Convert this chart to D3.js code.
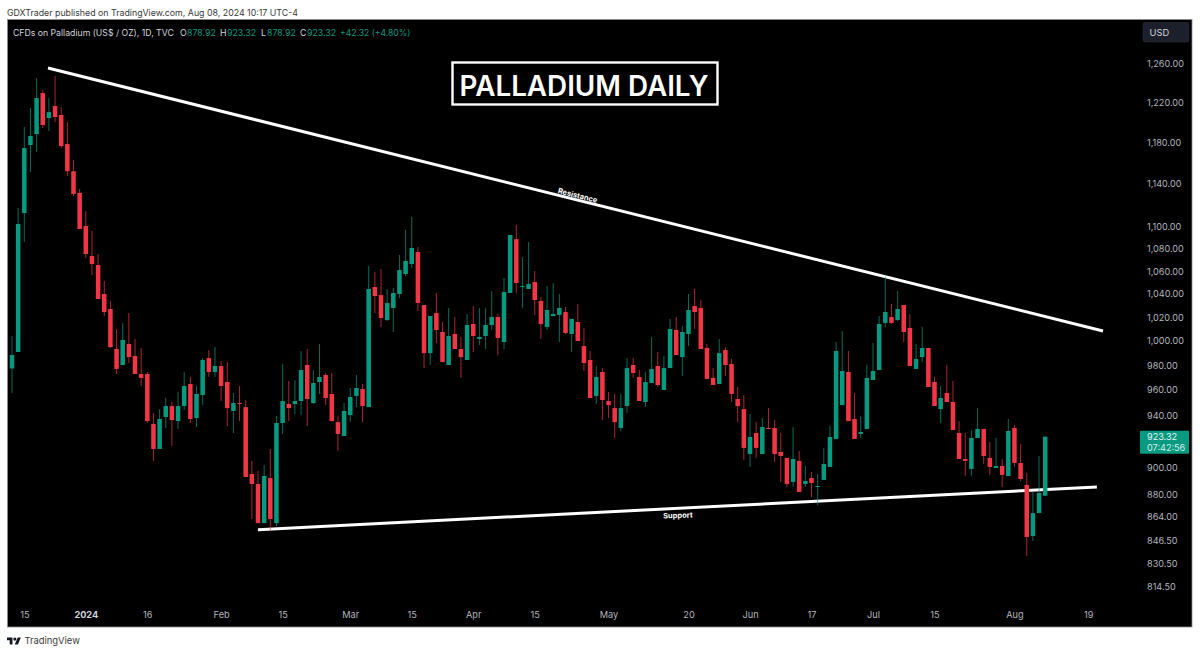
<!DOCTYPE html>
<html>
<head>
<meta charset="utf-8">
<style>
  html, body { margin: 0; background: #fff; }
  svg { display: block; font-family: Inter, "Noto Sans", sans-serif; }
  .domain { display: none; }
</style>
</head>
<body>
<div id="chart"></div>
<script src="https://cdn.jsdelivr.net/npm/d3@7"></script>
<script>
// daily candles, one entry per session (13 Dec 2023 - 8 Aug 2024)
const opens = [
  977.4, 990.9, 1112.7, 1177.6, 1188.5, 1229.8, 1204.5, 1216.6, 1207.5, 1178.6,
  1152.2, 1131.5, 1100.8, 1073.5, 1065.5, 1040, 1027.1, 993.4, 980.2, 997.5,
  987.6, 972.9, 972.9, 933.1, 913.9, 938.6, 947.2, 935.4, 947.2, 964.8,
  937.8, 956, 985.9, 974.5, 979.4, 966.4, 943.3, 949.6, 946.4, 895,
  887.6, 859.1, 892, 859.1, 933.9, 948.8, 948.8, 951.2, 980.2, 949.6,
  966.4, 972.1, 956.8, 934.6, 923.9, 940.1, 955.2, 960.8, 946.4, 1046.1,
  1039.1, 1017.7, 1028, 1040, 1057.5, 1066.4, 1077.1, 1030.5, 990, 1023.7,
  1007.6, 980.2, 1005.9, 993.4, 984.3, 1014.3, 1001.7, 1004.2, 1013.5, 1020.3,
  999.2, 1040.9, 1088.8, 1046.1, 1044.4, 1050.5, 1034, 1011.8, 1021.1, 1022,
  1024.5, 1005.9, 1016, 995.8, 984.3, 955.2, 974.5, 951.2, 945.6, 930,
  947.2, 980.2, 970.5, 950.4, 965.6, 979.4, 960, 977.7, 1009.3, 986.7,
  1005.9, 1029.7, 1028, 994.2, 969.7, 964.8, 992.5, 981, 952.8, 944.8,
  910.1, 926.2, 910.1, 930, 930, 911.6, 907.1, 889.1, 904.8, 887.6,
  892, 885.4, 890.6, 900.3, 921.6, 948, 974.5, 937, 925.4, 929.3,
  968, 976.1, 1015.2, 1020.3, 1017.7, 1030.5, 1011, 977, 986.7, 994.2,
  966.4, 944.8, 957.6, 950.4, 926.2, 906.3, 898.8, 922.3, 929.3, 907.1,
  899.5, 901, 893.5, 930, 903.3, 886.9, 849.9, 866.3, 878.92
];
const highs = [
  1004.2, 1117.4, 1195.5, 1214.6, 1245.3, 1232.9, 1224.7, 1247.4, 1215.6, 1200.5,
  1163, 1135.3, 1114.6, 1096.2, 1075.3, 1051.3, 1034, 1010.1, 1015.2, 1023.7,
  1001.7, 994.2, 974.5, 941.7, 944.8, 953.6, 950.4, 958.4, 974.5, 970.5,
  963.2, 985.9, 992.5, 995, 983.5, 982.6, 957.6, 963.2, 952, 904.8,
  897.3, 901.8, 913.9, 939.3, 981, 967.2, 968, 991.7, 993.4, 976.1,
  997.5, 973.7, 973.7, 939.3, 949.6, 961.6, 972.1, 964.8, 1064.6, 1059.3,
  1061.9, 1044.4, 1045.2, 1074.4, 1097.1, 1109, 1081.6, 1030.5, 1021.1, 1040.9,
  1016, 1028, 1020.3, 1003.4, 1022.8, 1029.7, 1028, 1028, 1042.6, 1022.8,
  1054, 1092.5, 1101.7, 1072.6, 1086.1, 1060.2, 1037.4, 1046.9, 1049.6, 1040,
  1028.8, 1018.6, 1031.4, 1010.9, 991.7, 979.4, 977.7, 958.4, 956.8, 956.8,
  985.9, 985.9, 976.1, 974.5, 1003.4, 990.9, 987.6, 1018.6, 1020.3, 1012.6,
  1040, 1044.4, 1034.8, 997.5, 977.7, 1001.7, 995, 985.1, 962.4, 956,
  940.9, 934.6, 937.8, 945.6, 936.2, 926.2, 907.1, 930.8, 912.4, 901,
  896.5, 895, 914.7, 931.6, 999.2, 1008.4, 991.7, 957.6, 939.3, 980.2,
  998.4, 1021.1, 1054.9, 1031.4, 1042.6, 1030.5, 1022.8, 997.5, 1011.8, 994.2,
  970.5, 963.2, 980.2, 967.2, 935.4, 926.2, 928.5, 945.6, 929.3, 919.2,
  922.3, 906.3, 937, 932.3, 917.7, 895.8, 881.7, 908.6, 923.32
];
const lows = [
  957.6, 990.9, 1086.1, 1151.4, 1170.8, 1194.5, 1191.5, 1200.5, 1174.7, 1147.6,
  1128.6, 1098, 1071.7, 1056.6, 1035.7, 1021.1, 994.2, 972.9, 980.2, 981.8,
  972.9, 963.2, 933.9, 904.8, 913.9, 930, 916.2, 929.3, 944.1, 933.9,
  930.8, 948, 970.5, 970.5, 951.2, 931.6, 926.2, 935.4, 892.8, 862,
  859.1, 859.1, 854.1, 857, 925.4, 935.4, 940.9, 940.1, 931.6, 948.8,
  956.8, 948, 935.4, 912.4, 923.9, 934.6, 946.4, 934.6, 946.4, 1023.7,
  1011.8, 1016.9, 1007.6, 1036.6, 1055.7, 1062.8, 1025.4, 977.7, 980.2, 998.4,
  982.6, 980.2, 993.4, 969.7, 984.3, 990.9, 996.7, 993.4, 1009.3, 988.4,
  993.4, 1040.9, 1040.9, 1028, 1044.4, 1022, 1001.7, 1009.3, 1021.1, 999.2,
  1005.9, 990.9, 1000, 975.3, 953.6, 948.8, 936.2, 937.8, 922.3, 927.7,
  941.7, 969.7, 951.2, 946.4, 965.6, 962.4, 960, 977.7, 988.4, 971.3,
  995.8, 1010.1, 993.4, 968.9, 964, 964.8, 971.3, 950.4, 934.6, 905.5,
  900.3, 907.1, 910.1, 929.3, 904, 889.1, 885.4, 885.4, 881.7, 885.4,
  878, 872.2, 890.6, 900.3, 921.6, 948, 935.4, 921.6, 922.3, 929.3,
  968, 976.1, 1011.8, 1014.3, 1016.9, 999.2, 979.4, 977, 982.6, 962.4,
  947.2, 933.9, 950.4, 928.5, 906.3, 893.5, 893.5, 922.3, 902.5, 894.3,
  899.5, 885.4, 893.5, 900.3, 889.8, 835.8, 846.3, 866.3, 878.92
];
const closes = [
  988.4, 1102.6, 1174.7, 1186.5, 1224.7, 1197.5, 1210.5, 1205.5, 1176.6, 1152.2,
  1130.5, 1098, 1075.3, 1066.4, 1035.7, 1024.5, 995, 977, 1000.9, 986.7,
  972.9, 969.7, 935.4, 913.9, 937, 947.2, 936.2, 947.2, 963.2, 937,
  956.8, 984.3, 974.5, 979.4, 963.2, 945.6, 949.6, 948.8, 892.8, 887.6,
  859.1, 893.5, 862, 933.9, 951.2, 945.6, 951.2, 976.1, 952.8, 965.6,
  970.5, 953.6, 935.4, 925.4, 943.3, 954.4, 961.6, 947.2, 1044.4, 1038.3,
  1019.4, 1032.3, 1040.9, 1061, 1069.1, 1080.7, 1032.3, 990, 1021.1, 1009.3,
  982.6, 1004.2, 993.4, 986.7, 1013.5, 1004.2, 1003.4, 1013.5, 1020.3, 1002.5,
  1041.7, 1092.5, 1049.6, 1046.9, 1048.7, 1034.8, 1014.3, 1026.2, 1022.8, 1028,
  1006.7, 1018.6, 1000, 981.8, 953.6, 970.5, 952, 948, 934.6, 945.6,
  977.7, 973.7, 951.2, 966.4, 976.9, 964, 977.7, 1010.1, 988.4, 1007.6,
  1026.2, 1024.5, 993.4, 968.9, 964, 990, 980.2, 956.8, 947.2, 914.7,
  923.1, 914.7, 930.8, 929.3, 910.1, 908.6, 887.6, 906.3, 881.7, 889.8,
  888.3, 886.1, 902.5, 923.1, 991.7, 975.3, 935.4, 921.6, 926.9, 969.7,
  975.3, 1014.3, 1024.5, 1015.2, 1027.1, 1007.6, 979.4, 985.1, 994.2, 962.4,
  947.2, 953.6, 950.4, 928.5, 906.3, 904.8, 922.3, 929.3, 908.6, 900.3,
  901, 894.3, 927.7, 903.3, 891.3, 849.2, 866.3, 880.9, 923.32
];

const priceTicks = [1260, 1220, 1180, 1140, 1100, 1080, 1060, 1040, 1020, 1000, 980, 960, 940, 900, 880, 864, 846.5, 830.5, 814.5];
const dateLabels = ["15", "2024", "16", "Feb", "15", "Mar", "15", "Apr", "15", "May", "20", "Jun", "17", "Jul", "15", "Aug", "19"];
const dateIndex = [2, 12, 22, 34, 44, 55, 65, 75, 85, 97, 110, 120, 130, 140, 150, 163, 175];

// trend lines: [session index, price]
const resistance = [[5.85, 1255.8], [177.4, 1008.4]];
const support = [[40, 854.4], [176.4, 885.4]];

const lastPrice = 923.32;
const UP = "#089981", DOWN = "#f23645";
const W = 1200, H = 653;

const x = d3.scaleLinear().domain([0, 175]).range([12, 1088.25]);
const y = d3.scaleLog().domain([814.5, 1260]).range([587, 64]);

const svg = d3.select("#chart").append("svg").attr("width", W).attr("height", H);

svg.append("text").attr("x", 7).attr("y", 16).attr("font-size", 8.8).attr("fill", "#3a3a3a")
  .text("GDXTrader published on TradingView.com, Aug 08, 2024 10:17 UTC-4");

svg.append("rect").attr("x", 7.5).attr("y", 19.5).attr("width", 1184.5).attr("height", 607.5)
  .attr("fill", "#000").attr("stroke", "#8a8a8a").attr("stroke-width", 0.8);

// legend row
const legend = [
  ["CFDs on Palladium (US$ / OZ), 1D, TVC", 13, "#d1d4dc", 8.7],
  ["O", 180, "#d1d4dc", 8.8], ["878.92", 187, UP, 8.8],
  ["H", 220, "#d1d4dc", 8.8], ["923.32", 227, UP, 8.8],
  ["L", 261, "#d1d4dc", 8.8], ["878.92", 267, UP, 8.8],
  ["C", 300, "#d1d4dc", 8.8], ["923.32", 307, UP, 8.8],
  ["+42.32 (+4.80%)", 340, UP, 8.6]
];
svg.append("g").selectAll("text").data(legend).join("text")
  .attr("x", d => d[1]).attr("y", 36).attr("font-size", d => d[3]).attr("fill", d => d[2]).text(d => d[0]);

svg.append("rect").attr("x", 1143).attr("y", 22.5).attr("width", 46).attr("height", 19.5).attr("rx", 2)
  .attr("fill", "#1b202c").attr("stroke", "#2a2e39").attr("stroke-width", 0.6);
svg.append("text").attr("x", 1149.5).attr("y", 35.5).attr("font-size", 9.3).attr("fill", "#d1d4dc").text("USD");

// title box
svg.append("rect").attr("x", 452.5).attr("y", 62.5).attr("width", 265).attr("height", 42)
  .attr("fill", "none").attr("stroke", "#fff").attr("stroke-width", 2.4);
svg.append("text").attr("x", 584).attr("y", 96).attr("text-anchor", "middle")
  .attr("font-size", 27.8).attr("font-weight", 600).attr("fill", "#fff").text("PALLADIUM DAILY");

// trend lines sit under the candles
const trend = d3.line().x(d => x(d[0])).y(d => y(d[1]));
svg.selectAll("path.trend").data([resistance, support]).join("path")
  .attr("class", "trend").attr("d", trend).attr("fill", "none").attr("stroke", "#fff").attr("stroke-width", 3);

svg.append("text").attr("transform", "translate(577,198) rotate(14)").attr("text-anchor", "middle")
  .attr("font-size", 7.5).attr("font-weight", 700).attr("fill", "#fff").text("Resistance");
svg.append("text").attr("transform", "translate(678,518) rotate(-2)").attr("text-anchor", "middle")
  .attr("font-size", 7.5).attr("font-weight", 700).attr("fill", "#fff").text("Support");

// candles
const candle = svg.append("g").selectAll("g").data(opens).join("g");
const colour = (o, i) => closes[i] >= o ? UP : DOWN;
candle.append("line")
  .attr("x1", (o, i) => x(i)).attr("x2", (o, i) => x(i))
  .attr("y1", (o, i) => y(highs[i])).attr("y2", (o, i) => y(lows[i]))
  .attr("stroke", colour).attr("stroke-width", 1).attr("stroke-opacity", 0.7);
candle.append("rect")
  .attr("x", (o, i) => x(i) - 2.25).attr("width", 4.5)
  .attr("y", (o, i) => y(Math.max(o, closes[i])))
  .attr("height", (o, i) => Math.max(1, Math.abs(y(o) - y(closes[i]))))
  .attr("fill", colour);

// price axis
const yAxis = svg.append("g").attr("transform", "translate(1147,0)")
  .call(d3.axisRight(y).tickValues(priceTicks).tickSize(0).tickPadding(0).tickFormat(d3.format(",.2f")));
yAxis.selectAll("text").attr("font-size", 9.1).attr("font-family", "Inter").attr("fill", "#b2b5be");

// last price tag
const tagY = y(lastPrice);
svg.append("rect").attr("x", 1140).attr("y", tagY - 6).attr("width", 49).attr("height", 23).attr("rx", 1).attr("fill", UP);
svg.append("text").attr("x", 1147).attr("y", tagY + 3.5).attr("font-size", 9.1).attr("fill", "#e6f5f2").text(d3.format(".2f")(lastPrice));
svg.append("text").attr("x", 1147).attr("y", tagY + 14).attr("font-size", 9.1).attr("fill", "#d5efe9").text("07:42:56");

// date axis
const xAxis = svg.append("g").attr("transform", "translate(0,611)")
  .call(d3.axisBottom(x).tickValues(dateIndex).tickSize(0).tickPadding(0).tickFormat((d, i) => dateLabels[i]));
xAxis.selectAll("text").attr("font-size", 9.2).attr("font-family", "Inter")
  .attr("font-weight", (d, i) => dateLabels[i] === "2024" ? 700 : 400)
  .attr("fill", (d, i) => dateLabels[i] === "2024" ? "#d1d4dc" : "#b2b5be");

// footer logo
const logo = svg.append("g").attr("transform", "translate(7,636) scale(0.39)").attr("fill", "#131722");
logo.append("path").attr("d", "M14 22H7V11H0V4h14v18zM28 22h-8l7.5-18h8L28 22z");
logo.append("circle").attr("cx", 20).attr("cy", 8).attr("r", 4);
svg.append("text").attr("x", 24.5).attr("y", 643.5).attr("font-size", 9.4).attr("fill", "#3a3a3a").text("TradingView");
</script>
</body>
</html>
